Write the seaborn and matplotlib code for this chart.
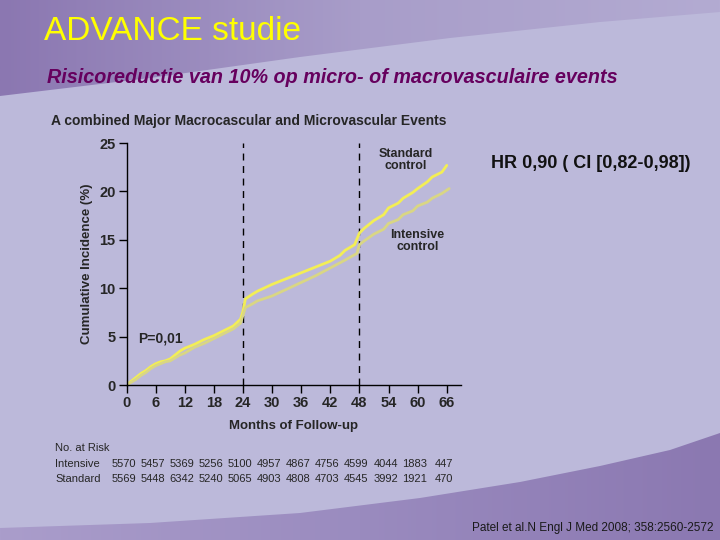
import numpy as np
import pandas as pd
import matplotlib
matplotlib.use("Agg")
import matplotlib.pyplot as plt
import matplotlib.transforms as mtransforms
from matplotlib.patches import Polygon, Rectangle
from matplotlib.colors import LinearSegmentedColormap
import seaborn as sns

# ---------------- data ----------------
std_months = [0, 1, 2, 3, 4, 5, 6, 7, 8, 9, 10, 11, 12, 14, 16, 18, 20, 22, 23.5, 24, 24.5, 26, 27, 30, 33, 36, 39, 42, 44, 45, 47, 48, 49, 51, 53, 54, 56, 57, 59, 60, 62, 63, 65, 66]
std_values = [0, 0.4, 0.8, 1.2, 1.5, 1.9, 2.2, 2.4, 2.5, 2.7, 3.1, 3.5, 3.8, 4.2, 4.7, 5.1, 5.6, 6.1, 6.8, 7.6, 8.9, 9.4, 9.7, 10.4, 11.0, 11.6, 12.2, 12.8, 13.4, 13.9, 14.5, 15.7, 16.2, 17.0, 17.6, 18.3, 18.8, 19.3, 19.9, 20.3, 21.0, 21.5, 22.0, 22.7]
int_months = [0, 1, 2, 3, 4, 5, 6, 7, 8, 9, 10, 11, 12, 14, 16, 18, 20, 22, 23.5, 24, 24.5, 26, 27, 30, 33, 36, 39, 42, 45, 47.5, 48, 49, 51, 53, 54, 56, 57, 59, 60, 62, 63, 65, 66.5]
int_values = [0, 0.3, 0.6, 1.0, 1.3, 1.7, 2.0, 2.2, 2.4, 2.5, 2.8, 3.1, 3.3, 3.9, 4.3, 4.8, 5.3, 5.8, 6.4, 7.2, 8.0, 8.4, 8.7, 9.2, 9.9, 10.6, 11.3, 12.1, 12.9, 13.6, 14.5, 14.9, 15.6, 16.1, 16.7, 17.1, 17.6, 18.0, 18.5, 18.9, 19.3, 19.8, 20.3]

tick_months = [0, 6, 12, 18, 24, 30, 36, 42, 48, 54, 60, 66]
risk_intensive = ["5570", "5457", "5369", "5256", "5100", "4957", "4867", "4756", "4599", "4044", "1883", "447"]
risk_standard = ["5569", "5448", "6342", "5240", "5065", "4903", "4808", "4703", "4545", "3992", "1921", "470"]

df = pd.concat([
    pd.DataFrame({"month": std_months, "inc": std_values, "group": "Standard"}),
    pd.DataFrame({"month": int_months, "inc": int_values, "group": "Intensive"}),
])

# ---------------- fonts ----------------
sns.set_style("white")
plt.rcParams["font.family"] = ["Liberation Sans", "DejaVu Sans"]
hr_size = 13
tbl_size = 8

fig = plt.figure(figsize=(7.2, 5.4), dpi=100)
bg = fig.add_axes([0, 0, 1, 1], zorder=0)
bg.set_xlim(0, 720)
bg.set_ylim(540, 0)
bg.axis("off")
bg.add_patch(Rectangle((0, 0), 720, 540, color="#BCB9DA", zorder=0))

grad = np.linspace(0, 1, 256)[None, :]
top_cmap = LinearSegmentedColormap.from_list("t", ["#8B77B1", "#A89DC9", "#B3ABD2"])
top_poly = Polygon([(0, 96), (150, 78), (300, 57), (450, 38), (600, 22), (720, 12), (720, 0), (0, 0)],
                   closed=True, transform=bg.transData, facecolor="none", edgecolor="none")
bg.add_patch(top_poly)
im = bg.imshow(grad, extent=(0, 720, 540, 0), cmap=top_cmap, aspect="auto", zorder=1)
im.set_clip_path(top_poly)

bot_cmap = LinearSegmentedColormap.from_list("b", ["#AA9DCB", "#9A8BBF", "#8B78B1"])
bot_poly = Polygon([(0, 528), (150, 523), (300, 513), (420, 498), (520, 482), (600, 466), (670, 450), (720, 433),
                    (720, 540), (0, 540)], closed=True, transform=bg.transData, facecolor="none", edgecolor="none")
bg.add_patch(bot_poly)
im2 = bg.imshow(grad, extent=(0, 720, 540, 0), cmap=bot_cmap, aspect="auto", zorder=1)
im2.set_clip_path(bot_poly)
bg.set_xlim(0, 720)
bg.set_ylim(540, 0)

# ---------------- main axes ----------------
ax = fig.add_axes([0.1757, 0.287, 0.465, 0.448], zorder=2)
ax.patch.set_alpha(0)
sns.lineplot(data=df, x="month", y="inc", hue="group", palette={"Standard": "#F3EE55", "Intensive": "#D9D684"},
             linewidth=2.0, ax=ax, legend=False, estimator=None, sort=True)

ax.set_xlim(0, 69)
ax.set_ylim(0, 25)
for m in (24, 48):
    ax.axvline(m, color="black", linestyle=(0, (5, 4)), linewidth=1.0, zorder=1)

sns.despine(ax=ax)
for s in ("left", "bottom"):
    ax.spines[s].set_color("black")
    ax.spines[s].set_linewidth(1.0)
ax.set_xticks(tick_months)
ax.set_yticks([0, 5, 10, 15, 20, 25])
ax.tick_params(axis="both", which="major", left=True, bottom=True, direction="out", length=6, width=1,
               color="black", labelsize=10.5, pad=2)
for lab in ax.get_xticklabels() + ax.get_yticklabels():
    lab.set_fontweight("bold")
ax.set_xlabel("Months of Follow-up", fontsize=9.5, fontweight="bold", labelpad=7)
ax.set_ylabel("Cumulative Incidence (%)", fontsize=9.5, fontweight="bold", labelpad=4)

ax.text(2.4, 4.8, "P=0,01", fontsize=10, fontweight="bold", va="center", ha="left")
ax.text(57.5, 23.3, "Standard\ncontrol", fontsize=9, fontweight="bold", va="center", ha="center", linespacing=1.0)
ax.text(60.0, 14.9, "Intensive\ncontrol", fontsize=9, fontweight="bold", va="center", ha="center", linespacing=1.0)

# ---------------- texts ----------------
fig.text(44 / 720, 1 - 32 / 540, "ADVANCE studie", color="#FFFF00", fontsize=24, va="center", ha="left")
fig.text(47 / 720, 1 - 78 / 540, "Risicoreductie van 10% op micro- of macrovasculaire events", color="#66005E",
         fontsize=14.2, fontweight="bold", fontstyle="italic", va="center", ha="left")
fig.text(51 / 720, 1 - 121 / 540, "A combined Major Macrocascular and Microvascular Events", fontsize=10,
         fontweight="bold", va="center", ha="left")
fig.text(491 / 720, 1 - 163 / 540, "HR 0,90 ( CI [0,82-0,98])", fontsize=hr_size, fontweight="bold", va="center",
         ha="left", color="#111111")

trans = mtransforms.blended_transform_factory(ax.transData, fig.transFigure)
fig.text(55 / 720, 1 - 448 / 540, "No. at Risk", fontsize=tbl_size, va="center", ha="left")
fig.text(55 / 720, 1 - 464 / 540, "Intensive", fontsize=tbl_size, va="center", ha="left")
fig.text(55 / 720, 1 - 479 / 540, "Standard", fontsize=tbl_size, va="center", ha="left")
for m, a, b in zip(tick_months, risk_intensive, risk_standard):
    ax.text(m - 0.6, 1 - 464 / 540, a, transform=trans, fontsize=tbl_size, va="center", ha="center",
            clip_on=False)
    ax.text(m - 0.6, 1 - 479 / 540, b, transform=trans, fontsize=tbl_size, va="center", ha="center",
            clip_on=False)

fig.text(713 / 720, 1 - 528 / 540, "Patel et al.N Engl J Med 2008; 358:2560-2572", fontsize=8.5, va="center", ha="right",
         color="#1A1A1A")

fig.savefig("out.png", dpi=100)
